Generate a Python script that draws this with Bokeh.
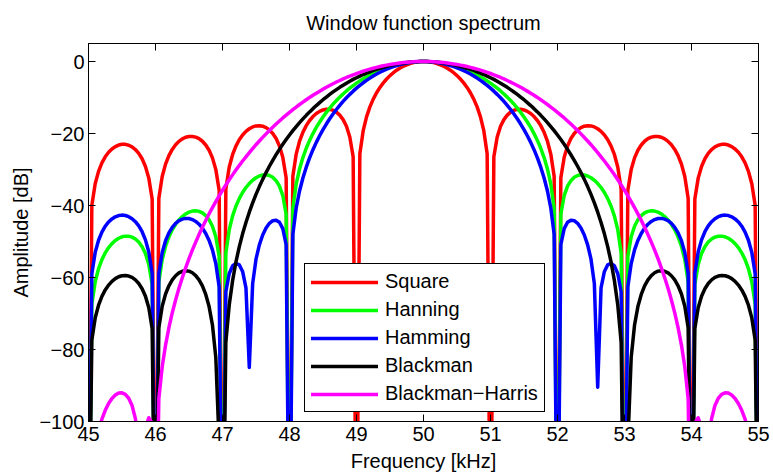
import numpy as np
from bokeh.plotting import figure
from bokeh.models import Range1d, FixedTicker, LinearAxis, Legend, LegendItem
from bokeh.embed import file_html
from bokeh.resources import INLINE

# Frequency grid of the computed spectra (kHz), 0.05 kHz spacing
freq_khz = np.round(np.linspace(45.0, 55.0, 201), 2)

# Magnitude spectra in dB; -150 marks nulls that fall far below the plotted floor
square_db = [
    -150, -39.94, -33.94, -30.51, -28.18, -26.48, -25.22, -24.29, -23.64, -23.21,
    -23.00, -23.02, -23.25, -23.71, -24.45, -25.52, -27.02, -29.16, -32.40, -38.20,
    -150, -37.98, -31.96, -28.51, -26.16, -24.43, -23.14, -22.19, -21.51, -21.05,
    -20.82, -20.81, -21.01, -21.44, -22.15, -23.19, -24.66, -26.77, -29.97, -35.74,
    -150, -35.45, -29.39, -25.90, -23.50, -21.74, -20.41, -19.40, -18.68, -18.18,
    -17.90, -17.83, -17.98, -18.36, -19.01, -19.99, -21.41, -23.45, -26.58, -32.29,
    -150, -31.85, -25.72, -22.14, -19.67, -17.81, -16.39, -15.29, -14.46, -13.86,
    -13.46, -13.28, -13.30, -13.55, -14.06, -14.89, -16.14, -18.01, -20.97, -26.47,
    -150, -25.60, -19.22, -15.39, -12.62, -10.45, -8.68, -7.20, -5.94, -4.86,
    -3.92, -3.11, -2.42, -1.82, -1.32, -0.91, -0.58, -0.32, -0.14, -0.03,
    0.00,
    -0.03, -0.14, -0.32, -0.58, -0.91, -1.32, -1.82, -2.42, -3.11, -3.92,
    -4.86, -5.94, -7.20, -8.68, -10.45, -12.62, -15.39, -19.22, -25.60, -150,
    -26.47, -20.97, -18.01, -16.14, -14.89, -14.06, -13.55, -13.30, -13.28, -13.46,
    -13.86, -14.46, -15.29, -16.39, -17.81, -19.67, -22.14, -25.72, -31.85, -150,
    -32.29, -26.58, -23.45, -21.41, -19.99, -19.01, -18.36, -17.98, -17.83, -17.90,
    -18.18, -18.68, -19.40, -20.41, -21.74, -23.50, -25.90, -29.39, -35.45, -150,
    -35.74, -29.97, -26.77, -24.66, -23.19, -22.15, -21.44, -21.01, -20.81, -20.82,
    -21.05, -21.51, -22.19, -23.14, -24.43, -26.16, -28.51, -31.96, -37.98, -150,
    -38.20, -32.40, -29.16, -27.02, -25.52, -24.45, -23.71, -23.25, -23.02, -23.00,
    -23.21, -23.64, -24.29, -25.22, -26.48, -28.18, -30.51, -33.94, -39.94, -150,
]

hanning_db = [
    -150, -67.36, -61.18, -57.56, -55.04, -53.15, -51.70, -50.58, -49.73, -49.10,
    -48.69, -48.51, -48.53, -48.78, -49.31, -50.16, -51.44, -53.36, -56.38, -61.95,
    -150, -61.27, -55.01, -51.32, -48.73, -46.75, -45.21, -44.00, -43.06, -42.34,
    -41.84, -41.56, -41.48, -41.63, -42.05, -42.80, -43.97, -45.78, -48.67, -54.12,
    -150, -53.18, -46.79, -42.95, -40.20, -38.08, -36.38, -35.00, -33.89, -32.99,
    -32.30, -31.81, -31.53, -31.47, -31.66, -32.17, -33.10, -34.63, -37.24, -42.40,
    -150, -40.80, -34.05, -29.83, -26.68, -24.10, -21.92, -20.01, -18.32, -16.80,
    -15.40, -14.13, -12.94, -11.85, -10.84, -9.89, -9.01, -8.18, -7.41, -6.69,
    -6.02, -5.39, -4.80, -4.26, -3.75, -3.27, -2.84, -2.43, -2.07, -1.73,
    -1.42, -1.15, -0.91, -0.69, -0.51, -0.35, -0.23, -0.13, -0.06, -0.01,
    0.00,
    -0.01, -0.06, -0.13, -0.23, -0.35, -0.51, -0.69, -0.91, -1.15, -1.42,
    -1.73, -2.07, -2.43, -2.84, -3.27, -3.75, -4.26, -4.80, -5.39, -6.02,
    -6.69, -7.41, -8.18, -9.01, -9.89, -10.84, -11.85, -12.94, -14.13, -15.40,
    -16.80, -18.32, -20.01, -21.92, -24.10, -26.68, -29.83, -34.05, -40.80, -150,
    -42.40, -37.24, -34.63, -33.10, -32.17, -31.66, -31.47, -31.53, -31.81, -32.30,
    -32.99, -33.89, -35.00, -36.38, -38.08, -40.20, -42.95, -46.79, -53.18, -150,
    -54.12, -48.67, -45.78, -43.97, -42.80, -42.05, -41.63, -41.48, -41.56, -41.84,
    -42.34, -43.06, -44.00, -45.21, -46.75, -48.73, -51.32, -55.01, -61.27, -150,
    -61.95, -56.38, -53.36, -51.44, -50.16, -49.31, -48.78, -48.53, -48.51, -48.69,
    -49.10, -49.73, -50.58, -51.70, -53.15, -55.04, -57.56, -61.18, -67.36, -150,
]

hamming_db = [
    -150, -58.96, -53.02, -49.65, -47.39, -45.76, -44.57, -43.72, -43.14, -42.79,
    -42.67, -42.78, -43.10, -43.66, -44.50, -45.67, -47.29, -49.54, -52.91, -58.84,
    -150, -58.91, -53.05, -49.77, -47.60, -46.05, -44.97, -44.23, -43.78, -43.58,
    -43.62, -43.91, -44.42, -45.20, -46.30, -47.76, -49.70, -52.34, -56.13, -62.57,
    -150, -63.95, -58.97, -56.79, -56.04, -56.47, -58.32, -62.88, -85.00, -61.70,
    -54.91, -50.92, -48.20, -46.28, -44.96, -44.21, -44.07, -44.66, -46.44, -50.86,
    -150, -48.00, -40.70, -35.97, -32.36, -29.35, -26.77, -24.50, -22.46, -20.62,
    -18.92, -17.37, -15.92, -14.58, -13.34, -12.18, -11.09, -10.07, -9.13, -8.24,
    -7.41, -6.64, -5.91, -5.24, -4.62, -4.03, -3.49, -2.99, -2.54, -2.13,
    -1.75, -1.41, -1.12, -0.85, -0.62, -0.43, -0.27, -0.15, -0.06, -0.01,
    0.00,
    -0.01, -0.06, -0.15, -0.27, -0.43, -0.62, -0.85, -1.12, -1.41, -1.75,
    -2.13, -2.54, -2.99, -3.49, -4.03, -4.62, -5.24, -5.91, -6.64, -7.41,
    -8.24, -9.13, -10.07, -11.09, -12.18, -13.34, -14.58, -15.92, -17.37, -18.92,
    -20.62, -22.46, -24.50, -26.77, -29.35, -32.36, -35.97, -40.70, -48.00, -150,
    -50.86, -46.44, -44.66, -44.07, -44.21, -44.96, -46.28, -48.20, -50.92, -54.91,
    -61.70, -90.48, -62.88, -58.32, -56.47, -56.04, -56.79, -58.97, -63.95, -150,
    -62.57, -56.13, -52.34, -49.70, -47.76, -46.30, -45.20, -44.42, -43.91, -43.62,
    -43.58, -43.78, -44.23, -44.97, -46.05, -47.60, -49.77, -53.05, -58.91, -150,
    -58.84, -52.91, -49.54, -47.29, -45.67, -44.50, -43.66, -43.10, -42.78, -42.67,
    -42.79, -43.14, -43.72, -44.57, -45.76, -47.39, -49.65, -53.02, -58.96, -150,
]

blackman_db = [
    -150, -77.34, -71.23, -67.69, -65.25, -63.45, -62.10, -61.07, -60.32, -59.80,
    -59.51, -59.44, -59.60, -59.98, -60.66, -61.66, -63.11, -65.21, -68.42, -74.19,
    -150, -73.98, -67.98, -64.58, -62.30, -60.67, -59.52, -58.73, -58.28, -58.10,
    -58.23, -58.68, -59.46, -60.64, -62.33, -64.71, -68.08, -73.19, -82.17, -106.19,
    -150, -77.99, -67.73, -60.95, -55.76, -51.51, -47.87, -44.70, -41.86, -39.28,
    -36.92, -34.75, -32.74, -30.86, -29.10, -27.44, -25.89, -24.41, -23.01, -21.69,
    -20.42, -19.22, -18.08, -16.99, -15.95, -14.95, -14.00, -13.10, -12.24, -11.42,
    -10.62, -9.87, -9.14, -8.46, -7.81, -7.18, -6.59, -6.02, -5.49, -4.97,
    -4.51, -4.05, -3.62, -3.23, -2.86, -2.49, -2.16, -1.86, -1.59, -1.34,
    -1.10, -0.88, -0.70, -0.53, -0.39, -0.27, -0.17, -0.09, -0.04, -0.01,
    0.00,
    -0.01, -0.04, -0.09, -0.17, -0.27, -0.39, -0.53, -0.70, -0.88, -1.10,
    -1.34, -1.59, -1.86, -2.16, -2.49, -2.86, -3.23, -3.62, -4.05, -4.51,
    -4.97, -5.49, -6.02, -6.59, -7.18, -7.81, -8.46, -9.14, -9.87, -10.62,
    -11.42, -12.24, -13.10, -14.00, -14.95, -15.95, -16.99, -18.08, -19.22, -20.42,
    -21.69, -23.01, -24.41, -25.89, -27.44, -29.10, -30.86, -32.74, -34.75, -36.92,
    -39.28, -41.86, -44.70, -47.87, -51.51, -55.76, -60.95, -67.73, -77.99, -150,
    -106.19, -82.17, -73.19, -68.08, -64.71, -62.33, -60.64, -59.46, -58.68, -58.23,
    -58.10, -58.28, -58.73, -59.52, -60.67, -62.30, -64.58, -67.98, -73.98, -150,
    -74.19, -68.42, -65.21, -63.11, -61.66, -60.66, -59.98, -59.60, -59.44, -59.51,
    -59.80, -60.32, -61.07, -62.10, -63.45, -65.25, -67.69, -71.23, -77.34, -150,
]

blackman_harris_db = [
    -150, -114.56, -107.20, -102.65, -99.36, -96.89, -95.01, -93.62, -92.66, -92.11,
    -92.03, -92.46, -93.54, -95.55, -99.21, -107.31, -112.17, -101.71, -98.95, -100.43,
    -150, -93.62, -84.81, -78.77, -73.95, -69.84, -66.24, -63.00, -60.06, -57.32,
    -54.78, -52.41, -50.17, -48.05, -46.03, -44.14, -42.31, -40.57, -38.91, -37.30,
    -35.77, -34.28, -32.87, -31.49, -30.16, -28.89, -27.65, -26.47, -25.33, -24.21,
    -23.12, -22.08, -21.09, -20.11, -19.16, -18.25, -17.38, -16.51, -15.68, -14.90,
    -14.12, -13.36, -12.65, -11.94, -11.27, -10.62, -9.98, -9.37, -8.79, -8.23,
    -7.68, -7.17, -6.66, -6.17, -5.71, -5.27, -4.85, -4.44, -4.06, -3.69,
    -3.34, -3.01, -2.70, -2.41, -2.13, -1.87, -1.63, -1.40, -1.19, -1.00,
    -0.82, -0.67, -0.53, -0.40, -0.30, -0.21, -0.13, -0.07, -0.03, -0.01,
    0.00,
    -0.01, -0.03, -0.07, -0.13, -0.21, -0.30, -0.40, -0.53, -0.67, -0.82,
    -1.00, -1.19, -1.40, -1.63, -1.87, -2.13, -2.41, -2.70, -3.01, -3.34,
    -3.69, -4.06, -4.44, -4.85, -5.27, -5.71, -6.17, -6.66, -7.17, -7.68,
    -8.23, -8.79, -9.37, -9.98, -10.62, -11.27, -11.94, -12.65, -13.36, -14.12,
    -14.90, -15.68, -16.51, -17.38, -18.25, -19.16, -20.11, -21.09, -22.08, -23.12,
    -24.21, -25.33, -26.47, -27.65, -28.89, -30.16, -31.49, -32.87, -34.28, -35.77,
    -37.30, -38.91, -40.57, -42.31, -44.14, -46.03, -48.05, -50.17, -52.41, -54.78,
    -57.32, -60.06, -63.00, -66.24, -69.84, -73.95, -78.77, -84.81, -93.62, -150,
    -100.43, -98.95, -101.71, -112.17, -107.31, -99.21, -95.55, -93.54, -92.46, -92.03,
    -92.11, -92.66, -93.62, -95.01, -96.89, -99.36, -102.65, -107.20, -114.56, -150,
]

series_names = ["Square", "Hanning", "Hamming", "Blackman", "Blackman\u2212Harris"]
series_colors = ["#ff0000", "#00ff00", "#0000ff", "#000000", "#ff00ff"]

x_ticks = [45, 46, 47, 48, 49, 50, 51, 52, 53, 54, 55]
y_ticks = [-100, -80, -60, -40, -20, 0]
y_tick_labels = ["\u2212100", "\u221280", "\u221260", "\u221240", "\u221220", "0"]

FONT = "Liberation Sans"
FONT_SIZE = "20px"

p = figure(
    width=773, height=476,
    output_backend="svg", toolbar_location=None,
    x_range=Range1d(45, 55), y_range=Range1d(-100, 5),
    title="Window function spectrum",
    x_axis_label="Frequency [kHz]", y_axis_label="Amplitude [dB]",
    min_border_left=88, min_border_right=15,
    min_border_top=43, min_border_bottom=55,
)
p.background_fill_color = "white"
p.border_fill_color = "white"
p.xgrid.visible = False
p.ygrid.visible = False
p.outline_line_color = "black"
p.outline_line_width = 1
p.outline_line_alpha = 1

p.title.align = "center"
p.title.text_font = FONT
p.title.text_font_size = FONT_SIZE
p.title.text_font_style = "normal"
p.title.text_color = "black"
p.title.offset = 0
p.title.standoff = 19


def style_axis(ax, ticks):
    ax.ticker = FixedTicker(ticks=ticks)
    ax.major_tick_in = 7
    ax.major_tick_out = 0
    ax.minor_tick_in = 0
    ax.minor_tick_out = 0
    ax.axis_line_color = "black"
    ax.major_tick_line_color = "black"
    ax.major_label_text_font = FONT
    ax.major_label_text_font_size = FONT_SIZE
    ax.major_label_text_color = "black"
    ax.axis_label_text_font = FONT
    ax.axis_label_text_font_size = FONT_SIZE
    ax.axis_label_text_font_style = "normal"
    ax.axis_label_text_color = "black"


def mirror_axis(ticks):
    # unlabeled axis carrying only inward tick marks on the opposite side
    ax = LinearAxis(ticker=FixedTicker(ticks=[], minor_ticks=ticks))
    ax.major_tick_in = 0
    ax.major_tick_out = 0
    ax.minor_tick_in = 7
    ax.minor_tick_out = 0
    ax.minor_tick_line_color = "black"
    ax.axis_line_color = "black"
    ax.major_label_standoff = 0
    return ax


style_axis(p.xaxis[0], x_ticks)
style_axis(p.yaxis[0], y_ticks)
p.xaxis[0].major_label_standoff = 5
p.xaxis[0].axis_label_standoff = 6
p.yaxis[0].major_label_standoff = 4
p.yaxis[0].axis_label_standoff = 4
p.yaxis[0].major_label_overrides = {t: s for t, s in zip(y_ticks, y_tick_labels)}

p.add_layout(mirror_axis(x_ticks), "above")
p.add_layout(mirror_axis(y_ticks), "right")

spectra = [square_db, hanning_db, hamming_db, blackman_db, blackman_harris_db]
items = []
for name, color, vals in zip(series_names, series_colors, spectra):
    r = p.line(freq_khz, vals, line_color=color, line_width=3.5,
               line_join="round", line_cap="round")
    items.append(LegendItem(label=name, renderers=[r]))

legend = Legend(items=items, location=(216, 9))
legend.label_text_font = FONT
legend.label_text_font_size = FONT_SIZE
legend.label_text_color = "black"
legend.glyph_width = 67
legend.glyph_height = 20
legend.label_height = 20
legend.label_standoff = 7
legend.spacing = 5
legend.padding = 6
legend.margin = 0
legend.border_line_color = "black"
legend.border_line_width = 1
legend.border_line_alpha = 1
legend.background_fill_color = "white"
legend.background_fill_alpha = 1
p.add_layout(legend)

open("out.html", "w").write(file_html(p, INLINE))
